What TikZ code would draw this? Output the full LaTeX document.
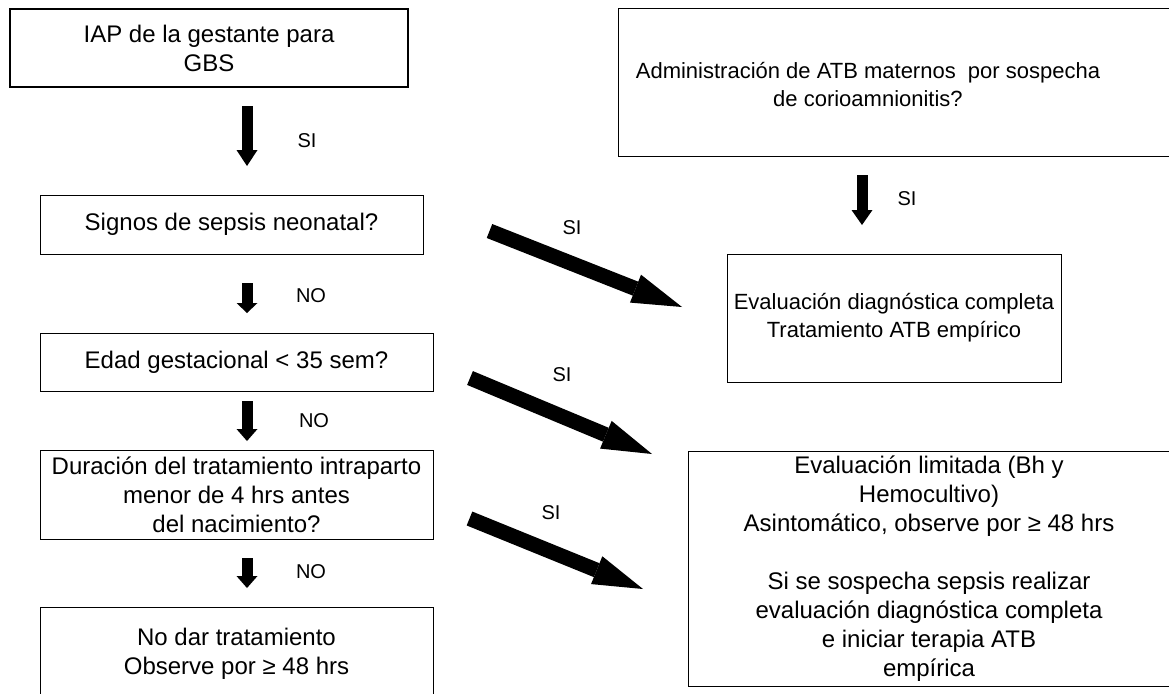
\documentclass[tikz,border=0pt]{standalone}
\usepackage{fontspec}
\setmainfont{Liberation Sans}
\usetikzlibrary{arrows.meta}
\tikzset{box/.style={draw, line width=0.75pt, align=center, inner sep=0pt,
    font=\fontsize{18}{21.75}\selectfont},
  boxsm/.style={box, font=\fontsize{16.5}{21}\selectfont},
  txt/.style={align=center, inner sep=0pt, font=\fontsize{16.5}{21}\selectfont},
  lbl/.style={inner sep=0pt, font=\fontsize{15}{18}\selectfont},
  vblock/.style={line width=8.25pt, -{Triangle[width=15.75pt,length=#1,line width=0pt]}},
  vblock/.default=9pt,
  dblock/.style={line width=11.25pt, -{Triangle[width=22.5pt,length=37.5pt,line width=0pt]}}}

\begin{document}
\begin{tikzpicture}[x=0.75pt,y=0.75pt,yscale=-1,xscale=1]
\useasboundingbox (0,0) rectangle (1169,693);
\clip (0,0) rectangle (1169,693);

%Shape: Rectangle
\node[box, line width=1.6pt, minimum width=298.5pt, minimum height=58.5pt] (iap) at (209,48) {IAP de la gestante para\\GBS};
%Shape: Rectangle
\node[box, minimum width=287.25pt, minimum height=44.25pt] (signos) at (231.5,224.5) {Signos de sepsis neonatal?};
%Shape: Rectangle
\node[box, minimum width=294.75pt, minimum height=43.5pt] (edad) at (236.5,362) {Edad gestacional < 35 sem?};
%Shape: Rectangle
\node[box, minimum width=294.75pt, minimum height=66.75pt] (duracion) at (236.5,494.5) {Duración del tratamiento intraparto\\menor de 4 hrs antes\\del nacimiento?};
%Shape: Rectangle
\node[box, minimum width=294.75pt, minimum height=69.75pt] (nodar) at (236.5,653.5) {No dar tratamiento\\Observe por ≥ 48 hrs};

%Shape: Rectangle
\node[boxsm, minimum width=429pt, minimum height=111pt] (admin) at (904,82) {};
% Text Node
\node[txt] (admintxt) at (868,85) {Administración de ATB maternos\ \ por sospecha\\de corioamnionitis?};
%Shape: Rectangle
\node[boxsm, minimum width=250.5pt, minimum height=96pt] (evaldiag) at (894,318) {Evaluación diagnóstica completa\\Tratamiento ATB empírico};
%Shape: Rectangle
\node[box, minimum width=361.5pt, minimum height=176.25pt] (limitada) at (929,568.5) {Evaluación limitada (Bh y\\Hemocultivo)\\Asintomático, observe por ≥ 48 hrs\\[21.75pt]Si se sospecha sepsis realizar\\evaluación diagnóstica completa\\e iniciar terapia ATB\\empírica};

%Arrows
\coordinate (a1s) at (247,106); \coordinate (a1e) at (247,166);
\coordinate (a2s) at (247,283); \coordinate (a2e) at (247,313);
\coordinate (a3s) at (247,401); \coordinate (a3e) at (247,441);
\coordinate (a4s) at (247,558); \coordinate (a4e) at (247,588);
\coordinate (ars) at (862,175); \coordinate (are) at (862,225);
\draw[vblock=12pt] (a1s) -- (a1e);
\draw[vblock=7.5pt] (a2s) -- (a2e);
\draw[vblock] (a3s) -- (a3e);
\draw[vblock] (a4s) -- (a4e);
\draw[vblock=11.25pt] (ars) -- (are);

\coordinate (das) at (489.5,231); \coordinate (dae) at (682,307);
\coordinate (dbs) at (470,378); \coordinate (dbe) at (652,454);
\coordinate (dcs) at (469.5,518.5); \coordinate (dce) at (643,589);
\draw[dblock] (das) -- (dae);
\draw[dblock] (dbs) -- (dbe);
\draw[dblock] (dcs) -- (dce);

% Text Node
\node[lbl] (si1) at (307,141) {SI};
% Text Node
\node[lbl] (no1) at (311,296) {NO};
% Text Node
\node[lbl] (no2) at (314,421) {NO};
% Text Node
\node[lbl] (no3) at (311,572) {NO};
% Text Node
\node[lbl] (sir) at (907,199) {SI};
% Text Node
\node[lbl] (sia) at (572,228) {SI};
% Text Node
\node[lbl] (sib) at (562,375) {SI};
% Text Node
\node[lbl] (sic) at (551,513) {SI};

\end{tikzpicture}
\end{document}
